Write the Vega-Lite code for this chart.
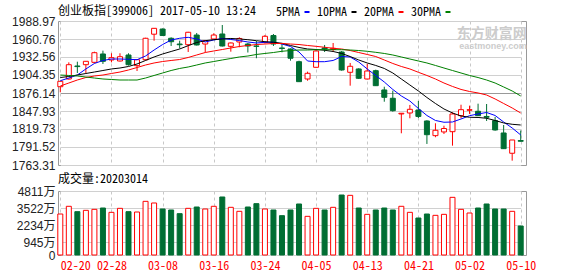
{
  "$schema": "https://vega.github.io/schema/vega-lite/v6.json",
  "background": "white",
  "padding": {"left": 11, "top": 4, "right": 5, "bottom": 0},
  "config": {
    "view": {"stroke": "#999999", "strokeWidth": 1},
    "font": "Noto Sans Mono CJK SC",
    "title": {"font": "Noto Sans Mono CJK SC", "fontSize": 12, "fontWeight": "normal", "color": "#000000", "anchor": "start", "frame": "group"},
    "axisY": {"labelOverlap": false, "ticks": false, "domain": false, "labelPadding": 3, "labelFontSize": 12, "labelColor": "#222222", "title": null}
  },
  "datasets": {
    "k": [
      {"date":"2017-02-20","open":1886.0,"high":1895.0,"low":1877.2,"close":1894.5,"volume":3082,"ma5":1895.4,"ma10":1900.4,"ma20":1887.1,"ma30":1904.3},
      {"date":"2017-02-21","open":1898.1,"high":1924.2,"low":1897.3,"close":1920.5,"volume":3660,"ma5":1899.6,"ma10":1902.0,"ma20":1891.8,"ma30":1903.6},
      {"date":"2017-02-22","open":1918.5,"high":1925.2,"low":1907.5,"close":1917.5,"volume":3257,"ma5":1904.3,"ma10":1904.3,"ma20":1896.5,"ma30":1902.8},
      {"date":"2017-02-23","open":1920.5,"high":1926.3,"low":1907.5,"close":1925.8,"volume":3358,"ma5":1913.8,"ma10":1906.7,"ma20":1900.4,"ma30":1901.2},
      {"date":"2017-02-24","open":1924.2,"high":1940.9,"low":1922.7,"close":1939.3,"volume":3433,"ma5":1922.4,"ma10":1909.0,"ma20":1902.8,"ma30":1899.6},
      {"date":"2017-02-27","open":1937.3,"high":1942.5,"low":1921.6,"close":1925.8,"volume":3533,"ma5":1927.1,"ma10":1911.4,"ma20":1904.3,"ma30":1898.1},
      {"date":"2017-02-28","open":1927.9,"high":1938.4,"low":1924.2,"close":1931.5,"volume":3207,"ma5":1929.4,"ma10":1913.8,"ma20":1906.7,"ma30":1897.3},
      {"date":"2017-03-01","open":1926.3,"high":1938.4,"low":1925.5,"close":1933.0,"volume":3508,"ma5":1929.4,"ma10":1915.3,"ma20":1909.0,"ma30":1896.5},
      {"date":"2017-03-02","open":1935.7,"high":1938.4,"low":1919.0,"close":1920.5,"volume":3257,"ma5":1929.0,"ma10":1917.7,"ma20":1912.2,"ma30":1896.5},
      {"date":"2017-03-03","open":1919.0,"high":1929.0,"low":1910.6,"close":1928.3,"volume":3232,"ma5":1928.3,"ma10":1921.6,"ma20":1916.1,"ma30":1896.5},
      {"date":"2017-03-06","open":1928.3,"high":1962.7,"low":1927.1,"close":1961.9,"volume":4034,"ma5":1934.1,"ma10":1927.1,"ma20":1920.0,"ma30":1899.6},
      {"date":"2017-03-07","open":1968.3,"high":1978.0,"low":1958.1,"close":1977.5,"volume":3909,"ma5":1943.5,"ma10":1932.6,"ma20":1923.2,"ma30":1903.6},
      {"date":"2017-03-08","open":1976.4,"high":1977.2,"low":1965.5,"close":1966.2,"volume":3458,"ma5":1952.1,"ma10":1937.3,"ma20":1925.5,"ma30":1907.5},
      {"date":"2017-03-09","open":1961.9,"high":1963.4,"low":1949.8,"close":1956.5,"volume":3383,"ma5":1959.2,"ma10":1941.2,"ma20":1927.1,"ma30":1911.4},
      {"date":"2017-03-10","open":1952.9,"high":1958.1,"low":1945.9,"close":1951.8,"volume":3107,"ma5":1961.9,"ma10":1945.1,"ma20":1928.6,"ma30":1914.6},
      {"date":"2017-03-13","open":1951.8,"high":1972.0,"low":1940.4,"close":1971.3,"volume":3508,"ma5":1963.4,"ma10":1950.3,"ma20":1931.8,"ma30":1916.9},
      {"date":"2017-03-14","open":1967.0,"high":1970.2,"low":1950.6,"close":1951.4,"volume":3608,"ma5":1960.8,"ma10":1955.3,"ma20":1935.7,"ma30":1920.0},
      {"date":"2017-03-15","open":1952.9,"high":1958.7,"low":1939.9,"close":1958.1,"volume":3458,"ma5":1956.1,"ma10":1958.1,"ma20":1939.6,"ma30":1923.2},
      {"date":"2017-03-16","open":1960.8,"high":1969.7,"low":1960.0,"close":1967.0,"volume":3660,"ma5":1959.2,"ma10":1959.7,"ma20":1942.0,"ma30":1925.5},
      {"date":"2017-03-17","open":1968.6,"high":1982.7,"low":1949.0,"close":1949.8,"volume":4360,"ma5":1961.6,"ma10":1960.8,"ma20":1944.3,"ma30":1927.9},
      {"date":"2017-03-20","open":1949.3,"high":1955.3,"low":1940.9,"close":1954.5,"volume":3584,"ma5":1960.0,"ma10":1961.6,"ma20":1946.7,"ma30":1930.2},
      {"date":"2017-03-21","open":1956.1,"high":1963.4,"low":1947.8,"close":1961.6,"volume":3283,"ma5":1958.4,"ma10":1960.8,"ma20":1949.0,"ma30":1932.6},
      {"date":"2017-03-22","open":1952.9,"high":1954.5,"low":1939.6,"close":1949.8,"volume":3608,"ma5":1956.1,"ma10":1959.7,"ma20":1950.6,"ma30":1934.1},
      {"date":"2017-03-23","open":1949.8,"high":1957.7,"low":1930.6,"close":1949.2,"volume":3859,"ma5":1954.5,"ma10":1958.1,"ma20":1952.1,"ma30":1936.5},
      {"date":"2017-03-24","open":1955.3,"high":1967.0,"low":1953.7,"close":1965.0,"volume":3458,"ma5":1955.6,"ma10":1956.6,"ma20":1952.9,"ma30":1938.1},
      {"date":"2017-03-27","open":1966.2,"high":1968.6,"low":1949.8,"close":1952.9,"volume":3383,"ma5":1955.6,"ma10":1955.6,"ma20":1953.7,"ma30":1939.6},
      {"date":"2017-03-28","open":1946.7,"high":1952.9,"low":1939.9,"close":1945.9,"volume":2957,"ma5":1952.9,"ma10":1954.1,"ma20":1953.7,"ma30":1941.5},
      {"date":"2017-03-29","open":1945.1,"high":1945.9,"low":1926.8,"close":1930.6,"volume":3383,"ma5":1949.0,"ma10":1950.6,"ma20":1952.9,"ma30":1942.7},
      {"date":"2017-03-30","open":1925.2,"high":1926.8,"low":1893.4,"close":1893.9,"volume":3834,"ma5":1940.4,"ma10":1947.5,"ma20":1952.1,"ma30":1943.5},
      {"date":"2017-03-31","open":1898.1,"high":1909.6,"low":1895.4,"close":1907.0,"volume":2907,"ma5":1926.3,"ma10":1945.1,"ma20":1950.6,"ma30":1943.5},
      {"date":"2017-04-05","open":1916.4,"high":1945.1,"low":1916.1,"close":1942.0,"volume":3508,"ma5":1925.2,"ma10":1944.3,"ma20":1949.3,"ma30":1944.0},
      {"date":"2017-04-06","open":1946.7,"high":1951.4,"low":1940.4,"close":1945.1,"volume":3383,"ma5":1925.2,"ma10":1943.1,"ma20":1947.8,"ma30":1944.0},
      {"date":"2017-04-07","open":1944.3,"high":1954.5,"low":1940.4,"close":1946.2,"volume":3584,"ma5":1927.1,"ma10":1941.2,"ma20":1946.2,"ma30":1944.0},
      {"date":"2017-04-10","open":1940.4,"high":1942.0,"low":1911.1,"close":1912.2,"volume":4510,"ma5":1933.3,"ma10":1938.1,"ma20":1945.1,"ma30":1944.0},
      {"date":"2017-04-11","open":1908.6,"high":1923.2,"low":1887.6,"close":1918.0,"volume":4485,"ma5":1932.6,"ma10":1933.3,"ma20":1942.7,"ma30":1943.5},
      {"date":"2017-04-12","open":1913.8,"high":1914.9,"low":1898.1,"close":1899.2,"volume":3533,"ma5":1924.7,"ma10":1927.9,"ma20":1939.6,"ma30":1942.7},
      {"date":"2017-04-13","open":1898.1,"high":1921.6,"low":1897.3,"close":1910.6,"volume":3057,"ma5":1913.8,"ma10":1923.2,"ma20":1936.5,"ma30":1941.5},
      {"date":"2017-04-14","open":1911.1,"high":1912.7,"low":1887.1,"close":1887.6,"volume":3383,"ma5":1903.6,"ma10":1919.3,"ma20":1933.3,"ma30":1939.9},
      {"date":"2017-04-17","open":1880.9,"high":1886.0,"low":1862.5,"close":1869.4,"volume":3533,"ma5":1893.4,"ma10":1914.6,"ma20":1927.9,"ma30":1938.1},
      {"date":"2017-04-18","open":1867.9,"high":1879.8,"low":1846.9,"close":1848.4,"volume":3383,"ma5":1881.7,"ma10":1907.5,"ma20":1922.4,"ma30":1935.7},
      {"date":"2017-04-19","open":1843.3,"high":1844.8,"low":1813.0,"close":1844.4,"volume":3660,"ma5":1871.5,"ma10":1898.1,"ma20":1917.7,"ma30":1932.6},
      {"date":"2017-04-20","open":1844.8,"high":1857.4,"low":1836.5,"close":1850.6,"volume":3207,"ma5":1863.6,"ma10":1888.7,"ma20":1913.8,"ma30":1929.4},
      {"date":"2017-04-21","open":1849.5,"high":1863.6,"low":1837.0,"close":1839.4,"volume":2781,"ma5":1851.9,"ma10":1879.3,"ma20":1908.6,"ma30":1926.3},
      {"date":"2017-04-24","open":1832.3,"high":1833.4,"low":1796.3,"close":1810.8,"volume":3082,"ma5":1840.9,"ma10":1869.1,"ma20":1903.6,"ma30":1923.2},
      {"date":"2017-04-25","open":1809.3,"high":1828.7,"low":1806.8,"close":1817.7,"volume":2982,"ma5":1833.1,"ma10":1859.7,"ma20":1898.1,"ma30":1919.3},
      {"date":"2017-04-26","open":1815.1,"high":1824.9,"low":1811.9,"close":1820.5,"volume":3057,"ma5":1830.3,"ma10":1851.1,"ma20":1891.8,"ma30":1915.3},
      {"date":"2017-04-27","open":1815.5,"high":1845.9,"low":1793.6,"close":1843.3,"volume":4335,"ma5":1830.7,"ma10":1844.8,"ma20":1886.4,"ma30":1911.4},
      {"date":"2017-04-28","open":1840.6,"high":1857.8,"low":1836.5,"close":1850.0,"volume":3433,"ma5":1835.4,"ma10":1840.1,"ma20":1881.7,"ma30":1907.5},
      {"date":"2017-05-02","open":1849.1,"high":1856.3,"low":1843.3,"close":1850.0,"volume":3157,"ma5":1840.6,"ma10":1838.1,"ma20":1878.5,"ma30":1903.6},
      {"date":"2017-05-03","open":1847.5,"high":1859.4,"low":1840.1,"close":1840.6,"volume":3533,"ma5":1843.3,"ma10":1837.8,"ma20":1876.2,"ma30":1900.4},
      {"date":"2017-05-04","open":1839.4,"high":1858.9,"low":1832.3,"close":1838.1,"volume":3834,"ma5":1845.6,"ma10":1836.5,"ma20":1873.0,"ma30":1896.5},
      {"date":"2017-05-05","open":1832.8,"high":1838.6,"low":1817.1,"close":1818.2,"volume":3458,"ma5":1840.9,"ma10":1833.1,"ma20":1866.8,"ma30":1891.8},
      {"date":"2017-05-08","open":1813.5,"high":1826.0,"low":1788.4,"close":1788.9,"volume":3458,"ma5":1830.7,"ma10":1829.2,"ma20":1859.7,"ma30":1885.6},
      {"date":"2017-05-09","open":1781.7,"high":1802.5,"low":1770.1,"close":1802.5,"volume":3283,"ma5":1821.3,"ma10":1827.1,"ma20":1852.7,"ma30":1879.3},
      {"date":"2017-05-10","open":1801.7,"high":1817.4,"low":1800.2,"close":1800.5,"volume":2180,"ma5":1810.4,"ma10":1826.0,"ma20":1844.8,"ma30":1871.5}
    ]
  },
  "data": {"name": "k"},
  "spacing": 0,
  "vconcat": [
    {
      "width": 468,
      "height": 144,
      "title": {"text": "创业板指[399006] 2017-05-10 13:24", "offset": -12, "baseline": "alphabetic"},
      "encoding": {
        "x": {
          "field": "date", "type": "ordinal",
          "scale": {"type": "point", "range": [2.3, 462.7], "padding": 0},
          "axis": {"values": ["2017-02-20","2017-02-28","2017-03-08","2017-03-16","2017-03-24","2017-04-05","2017-04-13","2017-04-21","2017-05-02","2017-05-10"], "labels": false, "ticks": false, "domain": false, "grid": true, "gridDash": [3, 3], "gridColor": "#c8c8c8", "title": null}
        }
      },
      "layer": [
        {
          "mark": {"type": "rule", "strokeWidth": 1},
          "encoding": {
            "y": {"field": "low", "type": "quantitative", "scale": {"domain": [1763.31, 1988.97], "zero": false, "nice": false},
              "axis": {"values": [1763.31, 1791.52, 1819.73, 1847.93, 1876.14, 1904.35, 1932.56, 1960.76, 1988.97], "tickCount": 9, "format": ".2f", "labelOverlap": false, "labelFont": "Liberation Sans", "grid": true, "gridColor": {"condition": {"test": "datum.value == 1876.14", "value": "#999999"}, "value": "#d0d0d0"}}},
            "y2": {"field": "high"},
            "color": {"condition": {"test": "datum.close >= datum.open", "value": "#ff0000"}, "value": "#006e33"}
          }
        },
        {
          "mark": {"type": "bar", "size": 5, "strokeWidth": 1},
          "encoding": {
            "y": {"field": "open", "type": "quantitative",
              "axis": {"values": [1763.31, 1791.52, 1819.73, 1847.93, 1876.14, 1904.35, 1932.56, 1960.76, 1988.97], "tickCount": 9, "format": ".2f", "labelOverlap": false, "labelFont": "Liberation Sans", "grid": true, "gridColor": {"condition": {"test": "datum.value == 1876.14", "value": "#999999"}, "value": "#d0d0d0"}}},
            "y2": {"field": "close"},
            "fill": {"condition": {"test": "datum.close >= datum.open", "value": "#ffffff"}, "value": "#006e33"},
            "stroke": {"condition": {"test": "datum.close >= datum.open", "value": "#ff0000"}, "value": "#006e33"}
          }
        },
        {
          "transform": [{"fold": ["ma5", "ma10", "ma20", "ma30"], "as": ["ma", "value"]}],
          "mark": {"type": "line", "strokeWidth": 1},
          "encoding": {
            "y": {"field": "value", "type": "quantitative",
              "axis": {"values": [1763.31, 1791.52, 1819.73, 1847.93, 1876.14, 1904.35, 1932.56, 1960.76, 1988.97], "tickCount": 9, "format": ".2f", "labelOverlap": false, "labelFont": "Liberation Sans", "grid": true, "gridColor": {"condition": {"test": "datum.value == 1876.14", "value": "#999999"}, "value": "#d0d0d0"}}},
            "color": {"field": "ma", "type": "nominal",
              "scale": {"domain": ["ma5", "ma10", "ma20", "ma30"], "range": ["#0000ff", "#000000", "#ff0000", "#008000"]},
              "legend": {"orient": "none", "legendX": 218, "legendY": -15, "direction": "horizontal", "title": "5PMA", "titleOrient": "left", "titleFont": "Noto Sans Mono CJK SC", "titleFontSize": 12, "titleFontWeight": "normal", "titleColor": "#000000", "titlePadding": 0, "labelFont": "Noto Sans Mono CJK SC", "labelFontSize": 12, "labelColor": "#000000", "labelOffset": 4, "columnPadding": -1, "symbolType": "stroke", "symbolSize": 25, "symbolStrokeWidth": 2,
                "labelExpr": "datum.value == 'ma5' ? '10PMA' : datum.value == 'ma10' ? '20PMA' : datum.value == 'ma20' ? '30PMA' : ''"}
            }
          }
        },
        {
          "data": {"values": [{"date": "2017-05-10", "price": 1969, "text": "东方财富网"}]},
          "mark": {"type": "text", "align": "right", "dx": 6, "font": "Noto Sans CJK SC", "fontSize": 14, "fontWeight": "bold", "color": "#cccccc"},
          "encoding": {"y": {"field": "price", "type": "quantitative",
              "axis": {"values": [1763.31, 1791.52, 1819.73, 1847.93, 1876.14, 1904.35, 1932.56, 1960.76, 1988.97], "tickCount": 9, "format": ".2f", "labelOverlap": false, "labelFont": "Liberation Sans", "grid": true, "gridColor": {"condition": {"test": "datum.value == 1876.14", "value": "#999999"}, "value": "#d0d0d0"}}},
            "text": {"field": "text"}}
        },
        {
          "data": {"values": [{"date": "2017-05-10", "price": 1950, "text": "eastmoney.com"}]},
          "mark": {"type": "text", "align": "right", "dx": 6, "font": "Liberation Sans", "fontSize": 9, "fontWeight": "bold", "color": "#cccccc"},
          "encoding": {"y": {"field": "price", "type": "quantitative",
              "axis": {"values": [1763.31, 1791.52, 1819.73, 1847.93, 1876.14, 1904.35, 1932.56, 1960.76, 1988.97], "tickCount": 9, "format": ".2f", "labelOverlap": false, "labelFont": "Liberation Sans", "grid": true, "gridColor": {"condition": {"test": "datum.value == 1876.14", "value": "#999999"}, "value": "#d0d0d0"}}},
            "text": {"field": "text"}}
        }
      ]
    },
    {
      "width": 468,
      "height": 64,
      "title": {"text": "成交量:20203014", "offset": -10, "baseline": "alphabetic"},
      "mark": {"type": "bar", "size": 5, "strokeWidth": 1},
      "encoding": {
        "x": {
          "field": "date", "type": "ordinal",
          "scale": {"type": "point", "range": [2.3, 462.7], "padding": 0},
          "axis": {"values": ["2017-02-20","2017-02-28","2017-03-08","2017-03-16","2017-03-24","2017-04-05","2017-04-13","2017-04-21","2017-05-02","2017-05-10"], "labelExpr": "substring(datum.label, 5)", "labelAngle": 0, "labelColor": "#ff0000", "labelFont": "Noto Sans Mono CJK SC", "labelFontSize": 12, "labelAlign": {"condition": {"test": "datum.value == '2017-02-20'", "value": "left"}, "value": "center"}, "labelOverlap": false, "labelPadding": 5, "ticks": false, "domain": false, "grid": true, "gridDash": [3, 3], "gridColor": "#c8c8c8", "title": null}
        },
        "y": {"field": "volume", "type": "quantitative", "scale": {"domain": [0, 4811], "nice": false},
          "axis": {"values": [4811, 3522, 2234, 945, 0], "tickCount": 5, "labelOverlap": false, "labelExpr": "datum.value < 1 ? '0' : datum.value + '万'", "labelFont": "Liberation Sans, Noto Sans CJK SC", "grid": true, "gridColor": "#d0d0d0"}},
        "fill": {"condition": {"test": "datum.close >= datum.open", "value": "#ffffff"}, "value": "#006e33"},
        "stroke": {"condition": {"test": "datum.close >= datum.open", "value": "#ff0000"}, "value": "#006e33"}
      }
    }
  ]
}
